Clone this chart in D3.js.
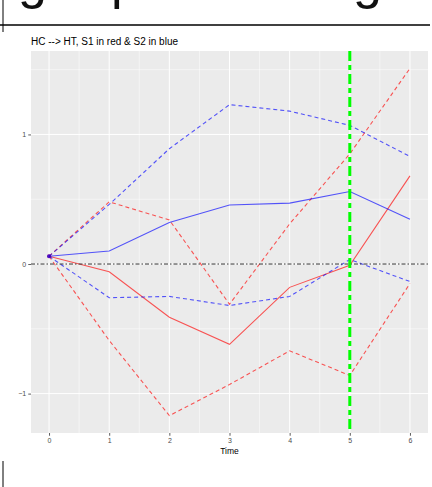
<!DOCTYPE html>
<html>
<head>
<meta charset="utf-8">
<script src="https://cdn.jsdelivr.net/npm/d3@7"></script>
<style>
  body { margin: 0; background: #fff; }
  svg { display: block; font-family: "Liberation Sans", Arial, sans-serif; }
</style>
</head>
<body>
<div id="chart"></div>
<script>
// vrijednosti ocitane sa slike
var times = [0, 1, 2, 3, 4, 5, 6];
var s1Mean  = [0.06, -0.06, -0.41, -0.62, -0.18, -0.01, 0.68];
var s1Upper = [0.06, 0.48, 0.34, -0.31, 0.31, 0.85, 1.51];
var s1Lower = [0.06, -0.59, -1.17, -0.93, -0.67, -0.86, -0.15];
var s2Mean  = [0.06, 0.10, 0.32, 0.455, 0.47, 0.56, 0.345];
var s2Upper = [0.06, 0.46, 0.89, 1.23, 1.18, 1.07, 0.83];
var s2Lower = [0.06, -0.26, -0.25, -0.32, -0.25, 0.035, -0.135];
var xTicks = [0, 1, 2, 3, 4, 5, 6];
var yTicks = [-1, 0, 1];
var vlineAt = 5;

var W = 432, H = 487;
var panel = { left: 31, right: 428, top: 51, bottom: 433 };

var svg = d3.select("#chart").append("svg")
    .attr("width", W)
    .attr("height", H);

// ostaci dokumenta iznad i ispod grafa (vide se samo repovi slova)
svg.append("g").selectAll("text")
    .data([{ t: "g", x: 18 }, { t: "p", x: 111 }, { t: "g", x: 353 }])
    .enter().append("text")
    .attr("x", d => d.x)
    .attr("y", -2.5)
    .style("font-size", "52px")
    .attr("fill", "#111")
    .text(d => d.t);
svg.append("line").attr("x1", 0).attr("x2", 430).attr("y1", 25).attr("y2", 25)
    .attr("stroke", "#000").attr("stroke-width", 1.3);
svg.append("line").attr("x1", 3).attr("x2", 3).attr("y1", 0).attr("y2", 32)
    .attr("stroke", "#000").attr("stroke-width", 1);
svg.append("line").attr("x1", 3).attr("x2", 3).attr("y1", 461).attr("y2", 487)
    .attr("stroke", "#000").attr("stroke-width", 1);

// skale s ggplot prosirenjem od 5%
var allY = s1Mean.concat(s1Upper, s1Lower, s2Mean, s2Upper, s2Lower);
var yMin = d3.min(allY), yMax = d3.max(allY);
var yPad = (yMax - yMin) * 0.05;
var xMin = d3.min(times), xMax = d3.max(times);
var xPad = (xMax - xMin) * 0.05;

var x = d3.scaleLinear()
    .domain([xMin - xPad, xMax + xPad])
    .range([panel.left, panel.right]);
var y = d3.scaleLinear()
    .domain([yMin - yPad, yMax + yPad])
    .range([panel.bottom, panel.top]);

// pozadina panela
svg.append("rect")
    .attr("x", panel.left).attr("y", panel.top)
    .attr("width", panel.right - panel.left)
    .attr("height", panel.bottom - panel.top)
    .attr("fill", "#ebebeb");

// mreza
var xMinor = d3.range(xMin - 0.5, xMax + 1, 1).filter(v => v > x.domain()[0] && v < x.domain()[1]);
var yMinor = d3.range(-1.5, 2, 1).filter(v => v > y.domain()[0] && v < y.domain()[1]);
var grid = svg.append("g");
grid.selectAll(".xminor").data(xMinor).enter().append("line")
    .attr("x1", d => x(d)).attr("x2", d => x(d))
    .attr("y1", panel.top).attr("y2", panel.bottom)
    .attr("stroke", "#fff").attr("stroke-width", 0.5);
grid.selectAll(".yminor").data(yMinor).enter().append("line")
    .attr("y1", d => y(d)).attr("y2", d => y(d))
    .attr("x1", panel.left).attr("x2", panel.right)
    .attr("stroke", "#fff").attr("stroke-width", 0.5);
grid.selectAll(".xmajor").data(xTicks).enter().append("line")
    .attr("x1", d => x(d)).attr("x2", d => x(d))
    .attr("y1", panel.top).attr("y2", panel.bottom)
    .attr("stroke", "#fff").attr("stroke-width", 1);
grid.selectAll(".ymajor").data(yTicks).enter().append("line")
    .attr("y1", d => y(d)).attr("y2", d => y(d))
    .attr("x1", panel.left).attr("x2", panel.right)
    .attr("stroke", "#fff").attr("stroke-width", 1);

// serije
var line = d3.line()
    .x((d, i) => x(times[i]))
    .y(d => y(d));

var series = [
    { v: s1Upper, c: "#ff0000", dash: "4,3" },
    { v: s1Lower, c: "#ff0000", dash: "4,3" },
    { v: s1Mean,  c: "#ff0000", dash: null },
    { v: s2Upper, c: "#0000ff", dash: "4,3" },
    { v: s2Lower, c: "#0000ff", dash: "4,3" },
    { v: s2Mean,  c: "#0000ff", dash: null }
];

svg.append("g").selectAll("path")
    .data(series)
    .enter().append("path")
    .attr("d", d => line(d.v))
    .attr("fill", "none")
    .attr("stroke", d => d.c)
    .attr("stroke-opacity", 0.65)
    .attr("stroke-width", 1.1)
    .attr("stroke-dasharray", d => d.dash);

svg.append("g").selectAll("circle")
    .data([{ v: s1Mean[0], c: "#ff0000" }, { v: s2Mean[0], c: "#0000ff" }])
    .enter().append("circle")
    .attr("cx", x(times[0]))
    .attr("cy", d => y(d.v))
    .attr("r", 2)
    .attr("fill", d => d.c)
    .attr("fill-opacity", 0.7);

// horizontalna linija na nuli
svg.append("line")
    .attr("x1", panel.left).attr("x2", panel.right)
    .attr("y1", y(0)).attr("y2", y(0))
    .attr("stroke", "#333")
    .attr("stroke-width", 1)
    .attr("stroke-dasharray", "4,2,1.5,2");

// zelena okomita linija
svg.append("line")
    .attr("x1", x(vlineAt)).attr("x2", x(vlineAt))
    .attr("y1", panel.top).attr("y2", panel.bottom)
    .attr("stroke", "#00ff00")
    .attr("stroke-width", 3)
    .attr("stroke-dasharray", "10,4,5,4");

// osi
var xAxis = d3.axisBottom(x).tickValues(xTicks).tickFormat(d3.format("d")).tickSize(2.75).tickPadding(2);
var yAxis = d3.axisLeft(y).tickValues(yTicks).tickFormat(d3.format("d")).tickSize(2.75).tickPadding(2);

var gx = svg.append("g")
    .attr("transform", "translate(0," + panel.bottom + ")")
    .call(xAxis);
var gy = svg.append("g")
    .attr("transform", "translate(" + panel.left + ",0)")
    .call(yAxis);

[gx, gy].forEach(function (g) {
    g.select(".domain").remove();
    g.selectAll(".tick line").attr("stroke", "#333").attr("stroke-width", 0.8);
    g.selectAll(".tick text")
        .attr("fill", "#4d4d4d")
        .style("font-size", "7px")
        .style("font-family", "Liberation Sans, Arial, sans-serif");
});

// naslov i oznaka osi
svg.append("text")
    .attr("x", panel.left)
    .attr("y", 45)
    .style("font-size", "10px")
    .attr("fill", "#000")
    .text("HC --> HT, S1 in red & S2 in blue");

svg.append("text")
    .attr("x", (panel.left + panel.right) / 2)
    .attr("y", 454)
    .attr("text-anchor", "middle")
    .style("font-size", "8.5px")
    .attr("fill", "#000")
    .text("Time");
</script>
</body>
</html>
